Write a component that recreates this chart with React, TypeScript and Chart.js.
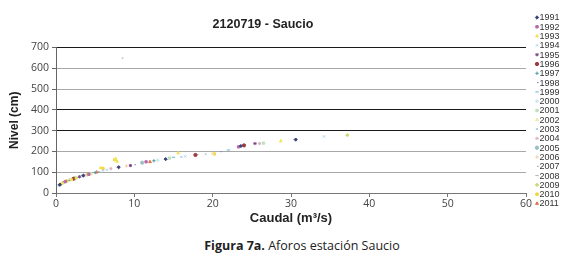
import React, { useEffect, useRef } from "react";
import { Chart, registerables } from "chart.js";
import { drawPoint } from "chart.js/helpers";

Chart.register(...registerables);

// ---- data: [caudal (m3/s), nivel (cm)] per year ----
const years = ["1991","1992","1993","1994","1995","1996","1997","1998","1999","2000","2001","2002","2003","2004","2005","2006","2007","2008","2009","2010","2011"];

const y1991 = [[0.5, 40], [3.5, 84], [8.0, 124], [14.0, 163], [23.6, 226], [30.6, 257]];
const y1992 = [[1.2, 55], [4.2, 90], [11.5, 150], [23.3, 222]];
const y1993 = [[0.8, 47], [2.0, 65], [2.6, 72], [5.7, 122], [7.6, 165], [7.8, 152], [15.6, 192], [28.7, 250]];
const y1994 = [[1.0, 50], [6.5, 112], [16.5, 176], [34.2, 272]];
const y1995 = [[3.0, 78], [9.5, 132], [25.4, 238]];
const y1996 = [[2.2, 68], [17.8, 183], [24.0, 229]];
const y1997 = [[0.4, 38], [5.0, 98], [12.5, 155]];
const y1998 = [[1.6, 60], [10.0, 136], [21.0, 199]];
const y1999 = [[2.8, 75], [15.0, 172], [22.0, 207]];
const y2000 = [[3.3, 81], [13.0, 158]];
const y2001 = [[1.8, 63], [14.5, 168], [26.5, 240]];
const y2002 = [[4.5, 92], [20.0, 190]];
const y2003 = [[6.0, 108], [16.0, 174]];
const y2004 = [[7.0, 117], [26.0, 238]];
const y2005 = [[2.4, 70], [11.0, 146]];
const y2006 = [[3.8, 86], [9.0, 130]];
const y2007 = [[8.4, 649], [19.0, 187]];
const y2008 = [[5.4, 103], [18.0, 185]];
const y2009 = [[0.7, 45], [4.0, 88], [37.2, 278]];
const y2010 = [[1.4, 58], [2.4, 72], [6.0, 118], [7.5, 160], [20.2, 188]];
const y2011 = [[0.9, 50], [5.2, 100], [12.0, 150]];

const seriesData = [y1991, y1992, y1993, y1994, y1995, y1996, y1997, y1998, y1999, y2000, y2001, y2002, y2003, y2004, y2005, y2006, y2007, y2008, y2009, y2010, y2011];

const xTicksMax = 60;
const yTicksMax = 700;

// ---- styles ----
const colors = ["#3a3f7a","#b86aa8","#f2e35a","#a9d4e8","#7a4682","#a03a3a","#4a9a9a","#7787cc","#66b2ca","#cfe9f1","#bfe0b8","#f0e7a6","#adcbe8","#dfb0c8","#9cc0c0","#f0cba6","#999999","#b0b0b0","#ccd96c","#f1d63a","#e2704e"];
const styles = ["rectRot","rect","triangle","crossRot","star","circle","cross","dash","line","rectRot","rect","triangle","crossRot","star","circle","cross","dash","line","rectRot","rect","triangle"];

const sideLegend = {
  id: "sideLegend",
  afterDraw(chart: any) {
    const ctx = chart.ctx;
    ctx.save();
    chart.data.datasets.forEach((ds: any, i: number) => {
      const y = 17.5 + i * 9.3;
      ctx.fillStyle = ds.backgroundColor;
      ctx.strokeStyle = ds.borderColor;
      ctx.lineWidth = 1;
      drawPoint(ctx, { pointStyle: ds.pointStyle, radius: 1.7, borderWidth: 1, rotation: 0 }, 537, y);
      ctx.fillStyle = "#333";
      ctx.font = "9px 'Liberation Sans'";
      ctx.textAlign = "left";
      ctx.textBaseline = "middle";
      ctx.fillText(ds.label, 539.5, y + 0.5);
    });
    ctx.restore();
  },
};

export default function App() {
  const ref = useRef<HTMLCanvasElement | null>(null);

  useEffect(() => {
    if (!ref.current) return;
    const chart = new Chart(ref.current, {
      type: "scatter",
      data: {
        datasets: seriesData.map((pts, i) => ({
          label: years[i],
          data: pts.map(([x, y]) => ({ x, y })),
          backgroundColor: colors[i],
          borderColor: colors[i],
          pointStyle: styles[i] as any,
          pointRadius: 1.6,
          borderWidth: 1,
        })),
      },
      options: {
        animation: false,
        responsive: false,
        devicePixelRatio: 1,
        layout: { padding: { left: 0, right: 48, top: 0, bottom: 0 } },
        plugins: {
          legend: { display: false },
          tooltip: { enabled: false },
          title: {
            display: true,
            text: "2120719 - Saucio",
            color: "#222",
            font: { family: "'Liberation Sans'", size: 12.5, weight: "bold" },
            padding: { top: 17.5, bottom: 15 },
          },
        },
        scales: {
          x: {
            type: "linear",
            min: 0,
            max: xTicksMax,
            ticks: { stepSize: 10, color: "#444", font: { family: "'Open Sans'", size: 10.5 }, padding: 1, maxRotation: 0 },
            grid: { drawOnChartArea: false, tickLength: 4, color: "#777" },
            border: { color: "#777" },
            title: {
              display: true,
              text: "Caudal (m³/s)",
              color: "#222",
              font: { family: "'Liberation Sans'", size: 13, weight: "bold" },
              padding: { top: 0, bottom: 5.5 },
            },
            afterFit: (s: any) => { s.height = 39; },
          },
          y: {
            min: 0,
            max: yTicksMax,
            ticks: { stepSize: 100, color: "#444", font: { family: "'Open Sans'", size: 10.5 }, padding: 3 },
            grid: {
              tickLength: 4,
              tickColor: "#666",
              color: (c: any) => {
                const v = c.tick ? c.tick.value : 0;
                return v === 700 || v === 400 || v === 300 ? "#1a1a1a" : "#a8a8a8";
              },
            },
            border: { color: "#666" },
            title: {
              display: true,
              text: "Nivel (cm)",
              color: "#222",
              font: { family: "'Liberation Sans'", size: 12, weight: "bold" },
              padding: { top: 7.5, bottom: 0 },
            },
            afterFit: (s: any) => { s.width = 56; },
          },
        },
      },
      plugins: [sideLegend],
    });
    return () => chart.destroy();
  }, []);

  return (
    <div style={{ position: "absolute", left: 0, top: 0, width: 574, height: 259, background: "#fff" }}>
      <canvas ref={ref} width={574} height={232} style={{ display: "block", width: 574, height: 232 }} />
      <div
        style={{
          position: "absolute",
          left: 0,
          width: 604,
          top: 238,
          textAlign: "center",
          whiteSpace: "nowrap",
          fontFamily: "'Open Sans'",
          fontSize: 12.5,
          lineHeight: "16px",
          color: "#222",
        }}
      >
        <b>Figura 7a.</b> Aforos estación Saucio
      </div>
    </div>
  );
}
